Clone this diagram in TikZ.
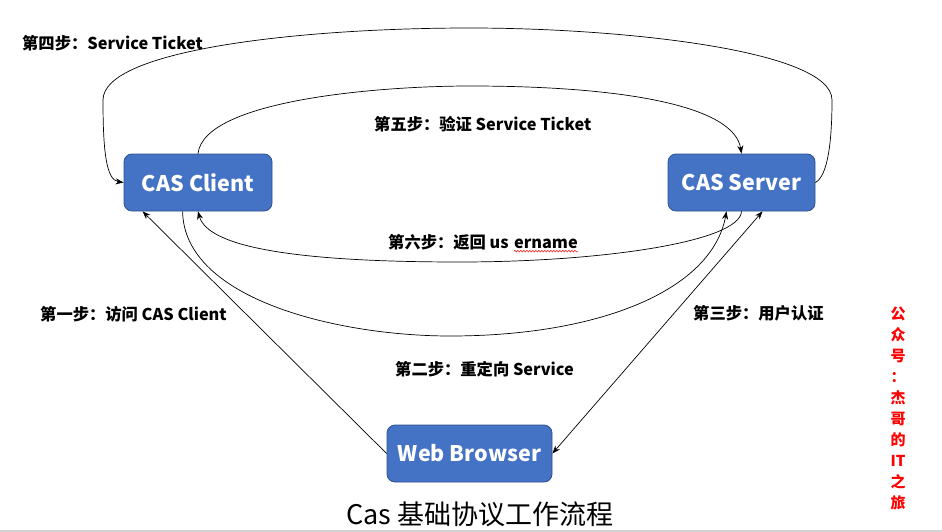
\documentclass[tikz,border=0pt]{standalone}
\usepackage{fontspec}
\setmainfont{Noto Sans CJK SC}
\usetikzlibrary{arrows.meta,calc,decorations.pathmorphing}
\definecolor{boxfill}{HTML}{4472C4}
\definecolor{boxline}{HTML}{2F528F}
\tikzset{
  box/.style={draw=boxline, line width=0.8pt, fill=boxfill, rounded corners=8pt,
    text=white, font=\bfseries\fontsize{21.5}{26}\selectfont, inner sep=0pt},
  conn/.style={draw=black, line width=0.7pt, -{Stealth[length=8pt,width=6pt]}},
  lbl/.style={font=\bfseries\fontsize{16.3}{18}\selectfont, inner sep=0pt, anchor=west, text=black},
}
\begin{document}
\begin{tikzpicture}[x=1pt,y=-1pt]
\useasboundingbox[fill=white] (0,0) rectangle (942,532);
\draw[gray!35, line width=1.5pt] (0,531) -- (942,531);

\node[box, minimum width=148pt, minimum height=57pt] (client) at (198,182.5) {CAS Client};
\node[box, minimum width=147pt, minimum height=57pt] (server) at (741.5,182.5) {CAS Server};
\node[box, minimum width=165pt, minimum height=57pt] (browser) at (469.5,453.5) {Web Browser};

% step 4
\draw[conn] (server.east) .. controls (828,176) and (832,140) .. (832,100)
  .. controls (832,50) and (620,28) .. (470,28)
  .. controls (300,28) and (103,50) .. (103,100)
  .. controls (103,150) and (106,180) .. (client.west);
% step 5
\draw[conn] (client.north) .. controls (204,100) and (380,86) .. (470,86)
  .. controls (620,86) and (734,105) .. (server.north);
% step 6
\draw[conn] (server.south) .. controls (740,242) and (600,262) .. (460,262)
  .. controls (300,262) and (208,248) .. (client.south);
% step 2
\draw[conn] ($(client.south west)+(59,0)$) .. controls (184,300) and (340,336) .. (450,336)
  .. controls (600,336) and (712,290) .. ($(server.south)+(-15,0)$);
% step 1
\draw[conn] (browser.west) -- ($(client.south west)+(19,0)$);
% step 3
\draw[conn, {Stealth[length=8pt,width=6pt]}-{Stealth[length=8pt,width=6pt]}] (browser.east) -- ($(server.south)+(21,0)$);

\node[lbl] (l4) at (22,43) {第四步：Service Ticket};
\node[lbl] (l5) at (374,124) {第五步：验证 Service Ticket};
\node[lbl] (l6) at (388,242) {第六步：返回 us};
\node[lbl, anchor=base west] (l6b) at ($(l6.base east)+(5,0)$) {ername};
\draw[red, line width=0.5pt, decorate, decoration={snake, amplitude=0.8pt, segment length=3pt}]
  ($(l6b.base west)+(0,3)$) -- ($(l6b.base east)+(0,3)$);
\node[lbl] (l1) at (40,314) {第一步：访问 CAS Client};
\node[lbl] (l3) at (693,313) {第三步：用户认证};
\node[lbl] (l2) at (395,369) {第二步：重定向 Service};

\node[font=\fontsize{27}{32}\selectfont, inner sep=0pt] (title) at (480,514) {Cas 基础协议工作流程};
\node[font=\bfseries\fontsize{15}{21}\selectfont, text=red, align=center, inner sep=0pt] (side) at (898,408)
  {公\\众\\号\\：\\杰\\哥\\的\\IT\\之\\旅};
\end{tikzpicture}
\end{document}
